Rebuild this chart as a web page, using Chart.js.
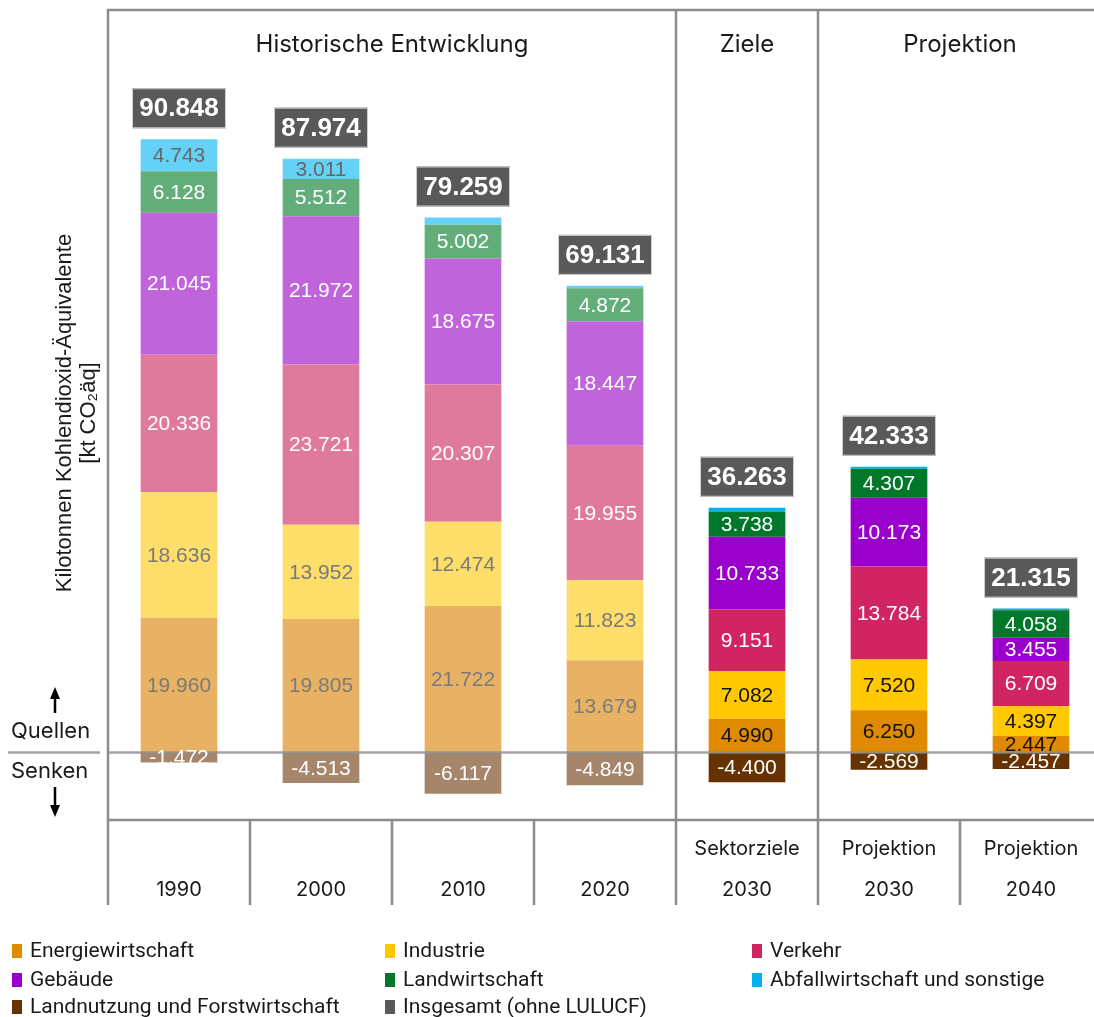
<!DOCTYPE html>
<html>
<head>
<meta charset="utf-8">
<script src="https://cdn.jsdelivr.net/npm/chart.js@4"></script>
<style>
  html, body { margin: 0; padding: 0; background: #fff; overflow: hidden; }
  #wrap { width: 1102px; height: 1017px; }
</style>
</head>
<body>
<div id="wrap"><canvas id="chart" width="1102" height="1017"></canvas></div>
<script>
// Werte in kt CO2-Äquivalente
const years = ['1990', '2000', '2010', '2020', '2030', '2030', '2040'];
const rowLabels = ['', '', '', '', 'Sektorziele', 'Projektion', 'Projektion'];

const energie = [19.960, 19.805, 21.722, 13.679, 4.990, 6.250, 2.447];
const industrie = [18.636, 13.952, 12.474, 11.823, 7.082, 7.520, 4.397];
const verkehr = [20.336, 23.721, 20.307, 19.955, 9.151, 13.784, 6.709];
const gebaeude = [21.045, 21.972, 18.675, 18.447, 10.733, 10.173, 3.455];
const landwirtschaft = [6.128, 5.512, 5.002, 4.872, 3.738, 4.307, 4.058];
const abfall = [4.743, 3.011, 1.079, 0.355, 0.569, 0.299, 0.249];
const lulucf = [-1.472, -4.513, -6.117, -4.849, -4.400, -2.569, -2.457];
const totals = [90.848, 87.974, 79.259, 69.131, 36.263, 42.333, 21.315];

const sections = [
  { text: 'Historische Entwicklung', from: 0, to: 3 },
  { text: 'Ziele', from: 4, to: 4 },
  { text: 'Projektion', from: 5, to: 6 }
];

const nHist = 4; // first 4 bars are drawn in pale colours

// [label, strong colour, pale colour, text strong, text pale, values]
const sectors = [
  ['Energiewirtschaft', '#E08A00', '#E8B264', '#111111', '#7a7a7a', energie],
  ['Industrie', '#FFC800', '#FDDE6A', '#111111', '#7a7a7a', industrie],
  ['Verkehr', '#D12462', '#E07A9D', '#ffffff', '#ffffff', verkehr],
  ['Gebäude', '#9900CC', '#C064DB', '#ffffff', '#ffffff', gebaeude],
  ['Landwirtschaft', '#00782A', '#63AD7A', '#ffffff', '#ffffff', landwirtschaft],
  ['Abfallwirtschaft und sonstige', '#00B0F0', '#66D1F7', '#111111', '#666666', abfall],
  ['Landnutzung und Forstwirtschaft', '#663300', '#A6866A', '#ffffff', '#ffffff', lulucf]
];

const datasets = sectors.map(s => ({
  label: s[0],
  data: s[5],
  backgroundColor: s[5].map((v, i) => i < nHist ? s[2] : s[1]),
  labelColors: s[5].map((v, i) => i < nHist ? s[4] : s[3]),
  borderWidth: 0,
  barPercentage: 0.54,
  categoryPercentage: 1
}));

const lineColor = '#8c8c8c';
const mainFont = '"Liberation Sans", Arial, sans-serif';
const titleFont = 'Inter, "Noto Sans", sans-serif';
const narrowFont = '"Liberation Sans Narrow", "Roboto", sans-serif';

const decorations = {
  id: 'decorations',
  afterDatasetsDraw(chart) {
    const ctx = chart.ctx;
    const area = chart.chartArea;
    const x = chart.scales.x;
    const y = chart.scales.y;
    const step = (area.right - area.left) / years.length;
    const edge = i => area.left + step * i;
    const y0 = y.getPixelForValue(0);
    const tableBottom = area.bottom + 85;

    ctx.save();
    ctx.strokeStyle = lineColor;
    ctx.lineWidth = 2.5;
    // frame
    ctx.beginPath();
    ctx.moveTo(area.left, tableBottom);
    ctx.lineTo(area.left, area.top);
    ctx.lineTo(area.right, area.top);
    ctx.moveTo(area.left, area.bottom);
    ctx.lineTo(area.right, area.bottom);
    // section separators
    sections.slice(1).forEach(s => {
      ctx.moveTo(edge(s.from), area.top);
      ctx.lineTo(edge(s.from), area.bottom);
    });
    // table columns
    for (let i = 1; i < years.length; i++) {
      ctx.moveTo(edge(i), area.bottom);
      ctx.lineTo(edge(i), tableBottom);
    }
    ctx.stroke();

    // zero line (over the bars)
    ctx.globalAlpha = 0.8;
    ctx.beginPath();
    ctx.moveTo(8, y0);
    ctx.lineTo(100, y0);
    ctx.moveTo(area.left, y0);
    ctx.lineTo(area.right, y0);
    ctx.stroke();
    ctx.globalAlpha = 1;

    // values inside the segments
    ctx.font = '21px ' + mainFont;
    ctx.textAlign = 'center';
    ctx.textBaseline = 'middle';
    chart.data.datasets.forEach((ds, di) => {
      const meta = chart.getDatasetMeta(di);
      meta.data.forEach((bar, i) => {
        const v = ds.data[i];
        if (Math.abs(v) < 1.4) return;
        ctx.fillStyle = ds.labelColors[i];
        ctx.fillText(v.toFixed(3), bar.x, (bar.y + bar.base) / 2 + 1);
      });
    });

    // totals boxes
    ctx.font = 'bold 26px ' + mainFont;
    totals.forEach((t, i) => {
      const cx = x.getPixelForValue(i);
      const top = y.getPixelForValue(t);
      const w = 94, h = 40;
      const by = top - 11 - h;
      ctx.fillStyle = '#595959';
      ctx.fillRect(cx - w / 2, by, w, h);
      ctx.strokeStyle = '#d0d0d0';
      ctx.lineWidth = 1;
      ctx.strokeRect(cx - w / 2 + 0.5, by + 0.5, w - 1, h - 1);
      ctx.fillStyle = '#ffffff';
      ctx.fillText(t.toFixed(3), cx, by + h / 2 + 1);
    });

    // section titles
    ctx.font = '24px ' + titleFont;
    ctx.fillStyle = '#1a1a1a';
    sections.forEach(s => {
      ctx.fillText(s.text, (edge(s.from) + edge(s.to + 1)) / 2, 45);
    });

    // table text
    ctx.font = '20px ' + titleFont;
    years.forEach((yr, i) => {
      const cx = x.getPixelForValue(i);
      if (rowLabels[i]) ctx.fillText(rowLabels[i], cx, 849);
      ctx.fillText(yr, cx, 890);
    });

    // y axis title
    ctx.save();
    ctx.translate(65, 413);
    ctx.rotate(-Math.PI / 2);
    ctx.font = '22px ' + mainFont;
    ctx.fillText('Kilotonnen Kohlendioxid-Äquivalente', 0, 0);
    ctx.fillText('[kt CO₂äq]', 0, 24);
    ctx.restore();

    // Quellen / Senken
    ctx.font = '22px ' + titleFont;
    ctx.textAlign = 'left';
    ctx.fillText('Quellen', 11, 731);
    ctx.fillText('Senken', 11, 771);
    ctx.lineWidth = 2.5;
    ctx.strokeStyle = '#000';
    ctx.fillStyle = '#000';
    ctx.beginPath();
    ctx.moveTo(55, 713); ctx.lineTo(55, 696);
    ctx.moveTo(55, 787); ctx.lineTo(55, 806);
    ctx.stroke();
    ctx.beginPath();
    ctx.moveTo(55, 687); ctx.lineTo(50, 699); ctx.lineTo(60, 699); ctx.closePath();
    ctx.moveTo(55, 817); ctx.lineTo(50, 805); ctx.lineTo(60, 805); ctx.closePath();
    ctx.fill();

    // legend
    const items = sectors.map(s => [s[0], s[1]]).concat([['Insgesamt (ohne LULUCF)', '#595959']]);
    const colX = [12, 385, 752];
    const rowY = [951, 980, 1007];
    ctx.font = '21px ' + narrowFont;
    ctx.textBaseline = 'middle';
    items.forEach((it, k) => {
      const lx = colX[k % 3];
      const ly = rowY[Math.floor(k / 3)];
      ctx.fillStyle = it[1];
      ctx.fillRect(lx, ly - 7, 10, 14);
      ctx.fillStyle = '#1a1a1a';
      ctx.fillText(it[0], lx + 18, ly + 1);
    });
    ctx.restore();
  }
};

new Chart(document.getElementById('chart'), {
  type: 'bar',
  data: { labels: years, datasets: datasets },
  options: {
    responsive: false,
    animation: false,
    layout: { padding: { left: 108, top: 10, right: 0, bottom: 197 } },
    plugins: { legend: { display: false }, tooltip: { enabled: false } },
    scales: {
      x: { stacked: true, display: false },
      y: { stacked: true, display: false, min: -10, max: 110 }
    }
  },
  plugins: [decorations]
});
</script>
</body>
</html>
